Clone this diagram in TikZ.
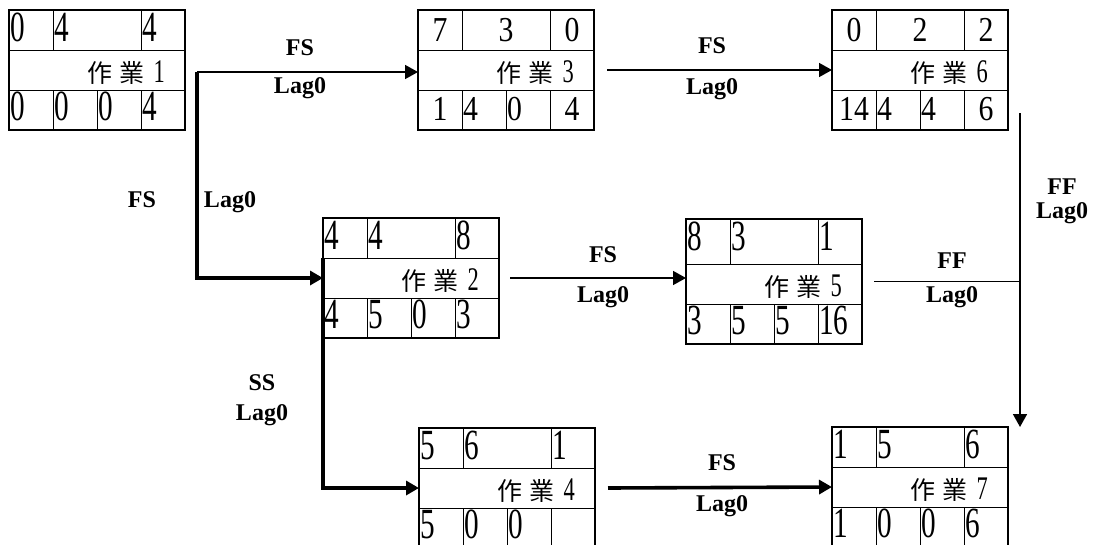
\documentclass[tikz,border=0pt]{standalone}
\usepackage{fontspec}
\setmainfont{Liberation Serif}
\newfontfamily\cjkfont{Noto Sans CJK TC}
\newfontfamily\numfont[FakeStretch=0.68]{Liberation Serif}
\newfontfamily\wnumfont[FakeStretch=0.85]{Liberation Serif}
\usetikzlibrary{arrows.meta}
\def\taskbox#1#2#3#4#5#6#7{%
	\node[taskframe, minimum height=#7pt] (#1) at (#2) {};
	\draw[cellline] ([yshift=40pt]#1.south west) -- ([yshift=40pt]#1.south east);
	\draw[cellline] ([yshift=80pt]#1.south west) -- ([yshift=80pt]#1.south east);
	\foreach \dx in {44,132} \draw[cellline] ([xshift=\dx pt]#1.north west) -- ([xshift=\dx pt,yshift=80pt]#1.south west);
	\foreach \dx in {44,88,132} \draw[cellline] ([xshift=\dx pt]#1.south west) -- ++(0,-40);
	\foreach \px/\an/\v [count=\i] in {#4} \node[#3, anchor=\an] (#1-a\i) at ([xshift=\px pt,yshift=-31pt]#1.north west) {\v};
	\foreach \px/\an/\v [count=\i] in {#5} \node[#3, anchor=\an] (#1-b\i) at ([xshift=\px pt,yshift=10pt]#1.south west) {\v};
	\node[midtext] (#1-name) at ([xshift=-20pt,yshift=48pt]#1.south east) {作\hspace{7pt}業\hspace{9pt}{\numfont\fontsize{33}{33}\selectfont #6}};
}

\begin{document}
\begin{tikzpicture}[x=1pt, y=-1pt,
	taskframe/.style={draw, rectangle, line width=2pt, minimum width=176pt, inner sep=0pt, outer sep=0pt, anchor=north west},
	cellline/.style={line width=1pt},
	bignum/.style={inner sep=0pt, font=\numfont\fontsize{43}{43}\selectfont},
	smallnum/.style={inner sep=0pt, font=\wnumfont\fontsize{35}{35}\selectfont},
	midtext/.style={anchor=base east, inner sep=0pt, font=\cjkfont\fontsize{25}{25}\selectfont},
	lab/.style={inner sep=0pt, font=\bfseries\fontsize{24}{24}\selectfont},
	plainlink/.style={line width=1.6pt},
	link/.style={line width=1.6pt, -{Triangle[length=13pt,width=14pt]}},
	heavy/.style={line width=3.6pt, -{Triangle[length=13pt,width=14pt]}}]
			%%%%% START %%%%%
			\useasboundingbox (0,0) rectangle (1095,544);
			
			\taskbox{t1}{9,10}{bignum}{1/base west/0, 45/base west/4, 133/base west/4}{1/base west/0, 45/base west/0, 89/base west/0, 133/base west/4}{1}{120}
			\taskbox{t3}{418,10}{smallnum}{22/base/7, 88/base/3, 154/base/0}{22/base/1, 45/base west/4, 89/base west/0, 154/base/4}{3}{120}
			\taskbox{t6}{832,10}{smallnum}{22/base/0, 88/base/2, 154/base/2}{22/base/14, 45/base west/4, 89/base west/4, 154/base/6}{6}{120}
			
			\taskbox{t2}{323,218}{bignum}{1/base west/4, 45/base west/4, 133/base west/8}{1/base west/4, 45/base west/5, 89/base west/0, 133/base west/3}{2}{120}
			\taskbox{t5}{686,219}{bignum}{1/base west/8, 45/base west/3, 133/base west/1}{1/base west/3, 45/base west/5, 89/base west/5, 133/base west/16}{5}{125}
			
			\taskbox{t4}{419,428}{bignum}{1/base west/5, 45/base west/6, 133/base west/1}{1/base west/5, 45/base west/0, 89/base west/0}{4}{120}
			\taskbox{t7}{832,427}{bignum}{1/base west/1, 45/base west/5, 133/base west/6}{1/base west/1, 45/base west/0, 89/base west/0, 133/base west/6}{7}{120}
			
			\coordinate (j1) at (197,72);
			\coordinate (j2) at (1020,113);
			
			\draw[link] (j1) -- (j1 -| t3.west);
			\draw[heavy] (j1) |- (t2.west);
			\draw[link] ([xshift=13pt]t3.east) -- (t6.west);
			\draw[link] ([xshift=11pt]t2.east) -- (t2.east -| t5.west);
			\draw[plainlink] ([xshift=12pt]t5.east) -- (t5.east -| j2);
			\draw[link] (j2) -- (j2 |- t7.north);
			\draw[heavy] ([yshift=-40pt]t2.north west) |- (t4.west);
			\draw[heavy] ([xshift=13pt]t4.east) -- (t7.west);
			
			\node[lab] (l13a) at (300,48) {FS};
			\node[lab] (l13b) at (300,88) {Lag0};
			\node[lab] (l12a) at (142,200) {FS};
			\node[lab] (l12b) at (230,202) {Lag0};
			\node[lab] (l36a) at (712,46) {FS};
			\node[lab] (l36b) at (712,89) {Lag0};
			\node[lab] (l25a) at (603,255) {FS};
			\node[lab] (l25b) at (603,297) {Lag0};
			\node[lab] (l57a) at (952,261) {FF};
			\node[lab] (l57b) at (952,297) {Lag0};
			\node[lab] (l67a) at (1062,187) {FF};
			\node[lab] (l67b) at (1062,213) {Lag0};
			\node[lab] (l24a) at (262,383) {SS};
			\node[lab] (l24b) at (262,415) {Lag0};
			\node[lab] (l47a) at (722,463) {FS};
			\node[lab] (l47b) at (722,506) {Lag0};
			
			%%%%% END %%%%%
\end{tikzpicture}
\end{document}
